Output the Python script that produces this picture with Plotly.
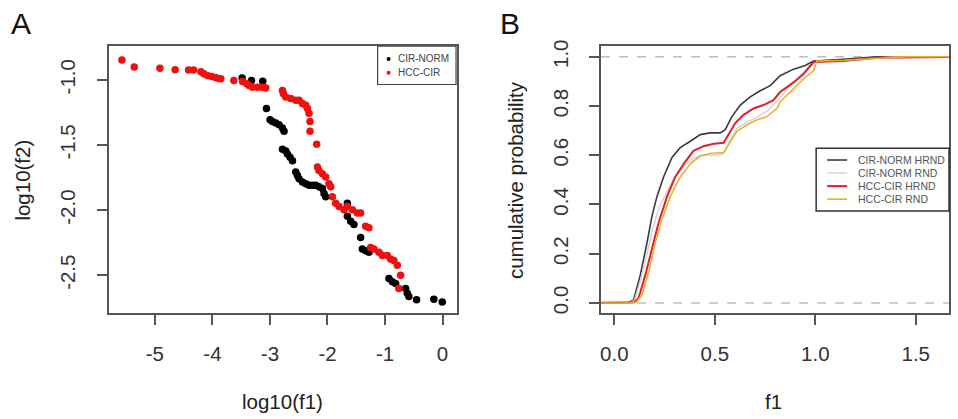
import plotly.graph_objects as go

W, H = 958, 419
FONT = "Liberation Sans, Arial, Helvetica, sans-serif"

# ---------------- Panel A data (log10(f1), log10(f2)) ----------------
cir_norm_x = [-3.484, -3.321, -3.125, -3.061, -2.998, -2.957, -2.899, -2.842, -2.783, -2.755,
              -2.783, -2.726, -2.696, -2.651, -2.609, -2.552, -2.523, -2.495, -2.436, -2.378,
              -2.321, -2.262, -2.205, -2.148, -2.089, -2.061, -2.031, -1.655, -1.655, -1.597,
              -1.540, -1.424, -1.394, -1.337, -1.280, -0.932, -0.873, -0.816, -0.642, -0.613,
              -0.585, -0.451, -0.151, -0.005]
cir_norm_y = [-0.985, -1.005, -1.011, -1.219, -1.307, -1.320, -1.332, -1.344, -1.369, -1.395,
              -1.533, -1.546, -1.570, -1.595, -1.621, -1.708, -1.734, -1.759, -1.784, -1.797,
              -1.809, -1.809, -1.809, -1.821, -1.834, -1.872, -1.897, -1.947, -2.047, -2.085,
              -2.111, -2.211, -2.299, -2.311, -2.324, -2.525, -2.550, -2.563, -2.601, -2.638,
              -2.663, -2.688, -2.684, -2.706]

hcc_cir_x = [-5.573, -5.359, -4.913, -4.648, -4.415, -4.328, -4.201, -4.149, -4.080, -4.010,
             -3.941, -3.889, -3.854, -3.628, -3.477, -3.403, -3.363, -3.304, -3.217, -3.130,
             -3.073, -2.783, -2.766, -2.726, -2.639, -2.552, -2.495, -2.436, -2.378, -2.349,
             -2.321, -2.304, -2.304, -2.188, -2.175, -2.148, -2.089, -2.031, -1.974, -1.944,
             -1.915, -1.858, -1.800, -1.714, -1.655, -1.568, -1.481, -1.424, -1.337, -1.280,
             -1.250, -1.193, -1.106, -1.047, -0.960, -0.903, -0.846, -0.786, -0.729, -0.759]
hcc_cir_y = [-0.847, -0.902, -0.910, -0.922, -0.925, -0.925, -0.937, -0.953, -0.968, -0.975,
             -0.983, -0.990, -0.992, -1.005, -1.013, -1.030, -1.043, -1.056, -1.056, -1.056,
             -1.063, -1.081, -1.106, -1.131, -1.143, -1.156, -1.156, -1.181, -1.194, -1.219,
             -1.256, -1.320, -1.395, -1.495, -1.668, -1.696, -1.721, -1.746, -1.797, -1.821,
             -1.897, -1.947, -1.972, -1.998, -1.972, -1.998, -2.023, -2.023, -2.123, -2.136,
             -2.286, -2.299, -2.324, -2.349, -2.349, -2.375, -2.387, -2.424, -2.500, -2.601]

a_xticks = [-5, -4, -3, -2, -1, 0]
a_xticklabels = ["-5", "-4", "-3", "-2", "-1", "0"]
a_yticks = [-1.0, -1.5, -2.0, -2.5]
a_yticklabels = ["-1.0", "-1.5", "-2.0", "-2.5"]

# ---------------- Panel B data (ECDF of f1) ----------------
cir_norm_hrnd_x = [-0.1, 0.065, 0.096, 0.129, 0.163, 0.187, 0.212, 0.245, 0.287, 0.328, 0.378, 0.428,
                   0.477, 0.527, 0.552, 0.585, 0.627, 0.676, 0.726, 0.776, 0.825, 0.892, 0.95, 0.991,
                   1.14, 1.306, 1.7]
cir_norm_hrnd_y = [0, 0, 0.012, 0.113, 0.246, 0.352, 0.432, 0.512, 0.591, 0.631, 0.657, 0.684,
                   0.691, 0.691, 0.704, 0.757, 0.804, 0.837, 0.862, 0.883, 0.923, 0.950, 0.965, 0.983,
                   0.99, 1.0, 1.0]

cir_norm_rnd_x = [-0.1, 0.07, 0.10, 0.13, 0.16, 0.19, 0.22, 0.26, 0.30, 0.35, 0.40, 0.45, 0.50,
                  0.54, 0.57, 0.61, 0.66, 0.71, 0.76, 0.81, 0.86, 0.92, 0.97, 1.0, 1.15, 1.3, 1.4, 1.7]
cir_norm_rnd_y = [0, 0, 0.01, 0.09, 0.19, 0.30, 0.38, 0.45, 0.51, 0.56, 0.59, 0.60, 0.60,
                  0.605, 0.65, 0.71, 0.735, 0.755, 0.78, 0.82, 0.87, 0.92, 0.96, 0.98, 0.985, 0.995, 1.0, 1.0]

hcc_cir_hrnd_x = [-0.1, 0.08, 0.10, 0.121, 0.154, 0.187, 0.220, 0.262, 0.303, 0.345, 0.394, 0.444,
                  0.494, 0.544, 0.568, 0.602, 0.643, 0.693, 0.742, 0.792, 0.825, 0.892, 0.941, 0.991,
                  1.14, 1.306, 1.7]
hcc_cir_hrnd_y = [0, 0, 0.003, 0.02, 0.113, 0.219, 0.325, 0.432, 0.512, 0.565, 0.618, 0.637,
                  0.647, 0.651, 0.684, 0.731, 0.764, 0.790, 0.804, 0.824, 0.857, 0.896, 0.930, 0.979,
                  0.983, 0.996, 1.0]

hcc_cir_rnd_x = [-0.1, 0.09, 0.11, 0.138, 0.171, 0.204, 0.237, 0.278, 0.328, 0.378, 0.428, 0.477,
                 0.544, 0.568, 0.610, 0.660, 0.710, 0.759, 0.809, 0.825, 0.892, 0.941, 0.991, 1.008,
                 1.15, 1.3, 1.45, 1.7]
hcc_cir_rnd_y = [0, 0, 0.004, 0.033, 0.126, 0.246, 0.339, 0.432, 0.512, 0.565, 0.598, 0.607,
                 0.611, 0.644, 0.697, 0.724, 0.744, 0.757, 0.790, 0.817, 0.870, 0.910, 0.943, 0.983,
                 0.986, 0.993, 1.0, 1.0]

b_xticks = [0.0, 0.5, 1.0, 1.5]
b_xticklabels = ["0.0", "0.5", "1.0", "1.5"]
b_yticks = [0.0, 0.2, 0.4, 0.6, 0.8, 1.0]
b_yticklabels = ["0.0", "0.2", "0.4", "0.6", "0.8", "1.0"]
b_reflines = [0.0, 1.0]

a_series = [("CIR-NORM", "#000000"), ("HCC-CIR", "#ee1111")]
b_series = [("CIR-NORM HRND", "#3a3a3a", 1.6), ("CIR-NORM RND", "#d4d4d4", 1.5),
            ("HCC-CIR HRND", "#e0202a", 2.0), ("HCC-CIR RND", "#e8b030", 1.6)]

# ---------------- figure ----------------
def px_x(p):
    return p / W

def px_y(p):
    return 1 - p / H

fig = go.Figure()

fig.add_trace(go.Scatter(x=cir_norm_x, y=cir_norm_y, mode="markers", name="CIR-NORM",
                         marker=dict(color=a_series[0][1], size=7.5), showlegend=False,
                         xaxis="x", yaxis="y"))
fig.add_trace(go.Scatter(x=hcc_cir_x, y=hcc_cir_y, mode="markers", name="HCC-CIR",
                         marker=dict(color=a_series[1][1], size=7.5), showlegend=False,
                         xaxis="x", yaxis="y"))

curves = [(cir_norm_hrnd_x, cir_norm_hrnd_y), (cir_norm_rnd_x, cir_norm_rnd_y),
          (hcc_cir_hrnd_x, hcc_cir_hrnd_y), (hcc_cir_rnd_x, hcc_cir_rnd_y)]
for (cx, cy), (nm, col, lw) in zip(curves, b_series):
    fig.add_trace(go.Scatter(x=cx, y=cy, mode="lines", name=nm,
                             line=dict(color=col, width=lw), showlegend=False,
                             xaxis="x2", yaxis="y2"))

axis_common = dict(showline=True, mirror=True, linecolor="#555555", linewidth=1.5,
                   ticks="outside", ticklen=10, tickwidth=1.5, tickcolor="#555555",
                   showgrid=False, zeroline=False,
                   tickfont=dict(family=FONT, size=20.5, color="#333333"))

fig.update_layout(
    width=W, height=H, margin=dict(l=0, r=0, t=0, b=0),
    paper_bgcolor="white", plot_bgcolor="white",
    xaxis=dict(domain=[px_x(108), px_x(456)], range=[-5.80, 0.243], anchor="y",
               tickvals=a_xticks, ticktext=a_xticklabels, ticklabelstandoff=12, **axis_common),
    yaxis=dict(domain=[px_y(312), px_y(40)], range=[-2.79, -0.742], anchor="x",
               tickvals=a_yticks, ticktext=a_yticklabels, tickangle=-90,
               ticklabelstandoff=14, **axis_common),
    xaxis2=dict(domain=[px_x(600.7), px_x(949.3)], range=[-0.066, 1.667], anchor="y2",
                tickvals=b_xticks, ticktext=b_xticklabels, ticklabelstandoff=12, **axis_common),
    yaxis2=dict(domain=[px_y(312), px_y(40)], range=[-0.041, 1.043], anchor="x2",
                tickvals=b_yticks, ticktext=b_yticklabels, tickangle=-90,
                ticklabelstandoff=13, **axis_common),
    showlegend=False,
)

# dashed reference lines in panel B
for v in b_reflines:
    fig.add_shape(type="line", xref="x2 domain", yref="y2", x0=0, x1=1, y0=v, y1=v,
                  line=dict(color="#bdbdbd", width=1.5, dash="dash"), layer="below")

ann = []
def text(x, y, s, size, angle=0, xanchor="center", color="#222222"):
    ann.append(dict(x=px_x(x), y=px_y(y), xref="paper", yref="paper", text=s, showarrow=False,
                    font=dict(family=FONT, size=size, color=color), textangle=angle,
                    xanchor=xanchor, yanchor="middle"))

# panel letters
text(20, 17, "A", 30, color="#111111")
text(510, 17, "B", 30, color="#111111")
# axis titles
text(282, 402, "log10(f1)", 20.5)
text(22, 176, "log10(f2)", 20.5, angle=-90)
text(773, 402, "f1", 20.5)
text(515, 176, "cumulative probability", 20.5, angle=-90)

# legend A
fig.add_shape(type="rect", xref="paper", yref="paper", x0=px_x(377), x1=px_x(455.5),
              y0=px_y(79), y1=px_y(40), line=dict(color="#444444", width=1.2),
              fillcolor="white")
for i, (nm, col) in enumerate(a_series):
    yy = 53 + i * 14
    fig.add_shape(type="circle", xref="paper", yref="paper",
                  x0=px_x(386), x1=px_x(390), y0=px_y(yy + 2), y1=px_y(yy - 2),
                  line=dict(width=0), fillcolor=col)
    text(395, yy, nm, 10, xanchor="left", color="#444444")

# legend B
fig.add_shape(type="rect", xref="paper", yref="paper", x0=px_x(816), x1=px_x(949),
              y0=px_y(208), y1=px_y(144), line=dict(color="#333333", width=1.5),
              fillcolor="white")
for i, (nm, col, lw) in enumerate(b_series):
    yy = 156 + i * 13.3
    fig.add_shape(type="line", xref="paper", yref="paper", x0=px_x(827), x1=px_x(847),
                  y0=px_y(yy), y1=px_y(yy), line=dict(color=col, width=lw))
    text(856, yy, nm, 10.5, xanchor="left", color="#555555")

fig.update_layout(annotations=ann)
fig.write_html("out.html")
